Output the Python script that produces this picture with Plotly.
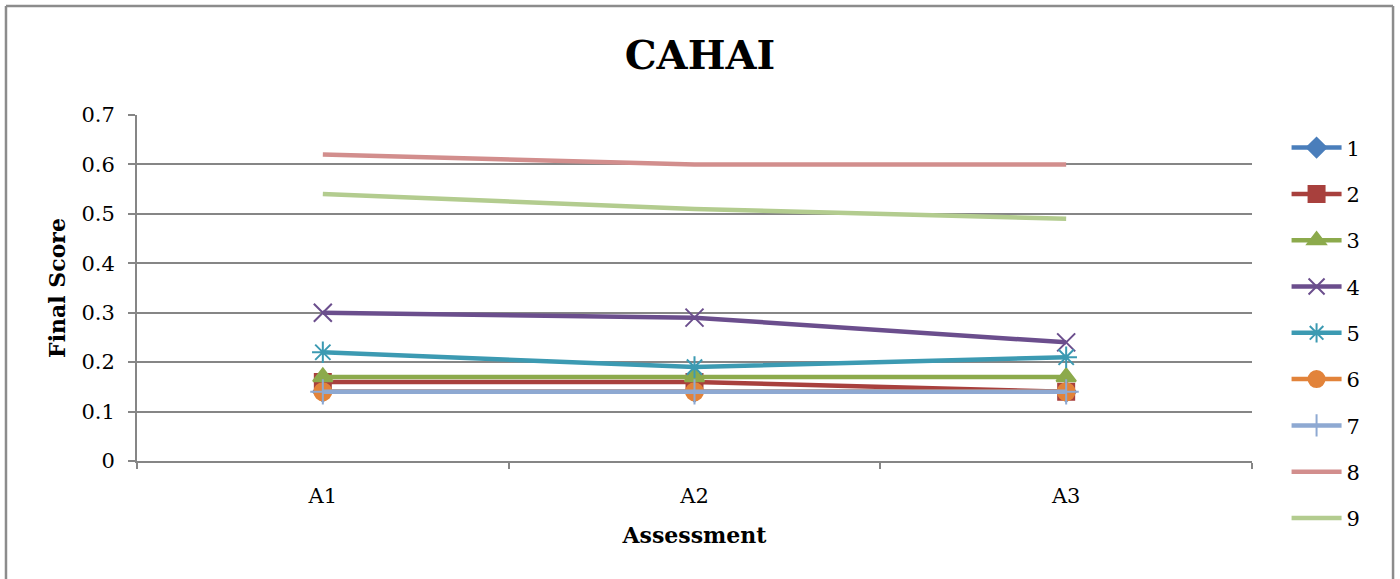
import plotly.graph_objects as go

# Assessment points and final scores per participant
assessments = ["A1", "A2", "A3"]
series_names = ["1", "2", "3", "4", "5", "6", "7", "8", "9"]
s1 = [0.14, 0.14, 0.14]
s2 = [0.16, 0.16, 0.14]
s3 = [0.17, 0.17, 0.17]
s4 = [0.30, 0.29, 0.24]
s5 = [0.22, 0.19, 0.21]
s6 = [0.14, 0.14, 0.14]
s7 = [0.14, 0.14, 0.14]
s8 = [0.62, 0.60, 0.60]
s9 = [0.54, 0.51, 0.49]
y_ticks = [0, 0.1, 0.2, 0.3, 0.4, 0.5, 0.6, 0.7]
y_tick_text = ["0", "0.1", "0.2", "0.3", "0.4", "0.5", "0.6", "0.7"]

values = [s1, s2, s3, s4, s5, s6, s7, s8, s9]
colors = ["#4A7EBB", "#A8403D", "#8CAA4C", "#6B4E8D", "#3C9AB2",
          "#E2833A", "#8EA9D2", "#D28E8D", "#B3CC8F"]
symbols = ["diamond", "square", "triangle-up", "x-thin-open", "asterisk-open",
           "circle", "cross-thin-open", None, None]
sizes = [15, 16, 17, 18, 18, 17, 18, 0, 0]

FONT = "DejaVu Serif"

fig = go.Figure()
for name, vals, col, sym, sz in zip(series_names, values, colors, symbols, sizes):
    if sym is None:
        mode = "lines"
        marker = None
    else:
        mode = "lines+markers"
        marker = dict(symbol=sym, size=sz, color=col,
                      line=dict(color=col, width=2))
    fig.add_trace(go.Scatter(
        x=assessments, y=vals, name=name, mode=mode,
        line=dict(color=col, width=4.5),
        marker=marker, legendgroup=name, cliponaxis=False,
    ))

# outer chart frame
frame = dict(color="#8C8C8C", width=2.5)
fig.add_shape(type="line", xref="paper", yref="paper",
              x0=-0.1175, x1=-0.1175, y0=1.315, y1=-0.4, line=frame)
fig.add_shape(type="line", xref="paper", yref="paper",
              x0=-0.1175, x1=1.1265, y0=1.315, y1=1.315, line=frame)
fig.add_shape(type="line", xref="paper", yref="paper",
              x0=1.1265, x1=1.1265, y0=1.315, y1=-0.4, line=frame)

fig.update_layout(
    width=1400, height=579,
    margin=dict(l=137, r=148, t=115, b=118),
    paper_bgcolor="white", plot_bgcolor="white",
    font=dict(family=FONT, size=21, color="black"),
    title=dict(text="<b>CAHAI</b>", x=0.5, xanchor="center",
               y=0.905, yanchor="middle",
               font=dict(family=FONT, size=40, color="black")),
    xaxis=dict(
        type="category", tickson="boundaries", ticks="outside", ticklen=6,
        tickcolor="#868686", tickwidth=1.5,
        showline=True, linecolor="#868686", linewidth=2,
        showgrid=False, zeroline=False,
        title=dict(text="<b>Assessment</b>", standoff=20,
                   font=dict(family=FONT, size=22)),
        tickfont=dict(family=FONT, size=21),
        ticklabelstandoff=15,
        range=[-0.5, 2.5],
    ),
    yaxis=dict(
        range=[0, 0.7], tickvals=y_ticks, ticktext=y_tick_text,
        ticks="outside", ticklen=7, tickcolor="#868686", tickwidth=1.5,
        showline=True, linecolor="#868686", linewidth=2,
        showgrid=True, gridcolor="#868686", gridwidth=2,
        zeroline=False,
        title=dict(text="<b>Final Score</b>", standoff=10,
                   font=dict(family=FONT, size=22)),
        tickfont=dict(family=FONT, size=21),
        ticklabelstandoff=9,
    ),
    legend=dict(
        x=1.031, xanchor="left", y=0.964, yanchor="top",
        font=dict(family=FONT, size=21),
        tracegroupgap=16, itemwidth=50, maxheight=560,
        bgcolor="rgba(0,0,0,0)",
    ),
    showlegend=True,
)

fig.write_html("out.html")
